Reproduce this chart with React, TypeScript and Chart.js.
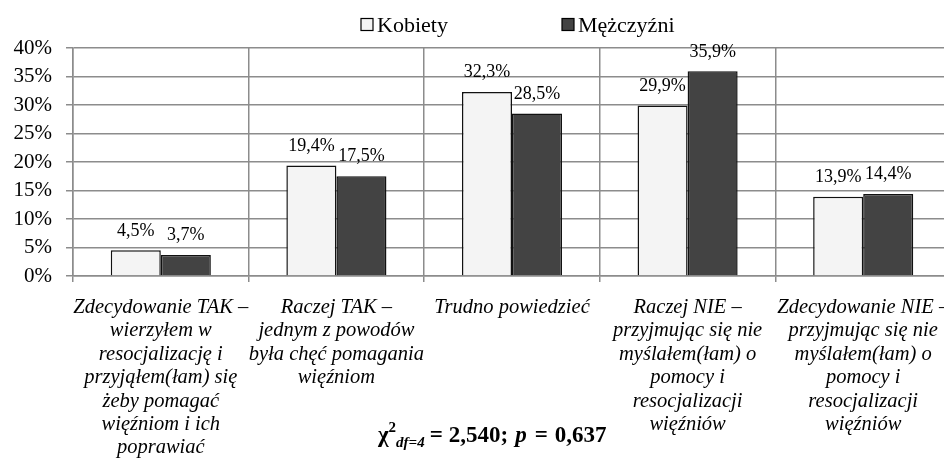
import React, { useEffect, useRef } from 'react';
import { Chart, registerables } from 'chart.js';

Chart.register(...registerables);

const SERIF = "'Liberation Serif', 'Times New Roman', serif";

const categories: string[][] = [
  ['Zdecydowanie TAK –', 'wierzyłem w', 'resocjalizację i', 'przyjąłem(łam) się', 'żeby pomagać', 'więźniom i ich', 'poprawiać'],
  ['Raczej TAK –', 'jednym z powodów', 'była chęć pomagania', 'więźniom'],
  ['Trudno powiedzieć'],
  ['Raczej NIE –', 'przyjmując się nie', 'myślałem(łam) o', 'pomocy i', 'resocjalizacji', 'więźniów'],
  ['Zdecydowanie NIE –', 'przyjmując się nie', 'myślałem(łam) o', 'pomocy i', 'resocjalizacji', 'więźniów'],
];

const seriesNames = ['Kobiety', 'Mężczyźni'];
const kobiety = [4.5, 19.4, 32.3, 29.9, 13.9];
const mezczyzni = [3.7, 17.5, 28.5, 35.9, 14.4];

const yMin = 0;
const yMax = 40;
const yStep = 5;

// statistic annotation: text pieces with style and spacing after each piece
const statParts = [
  { text: 'χ', style: 'bold', size: 23, dy: 0, gap: 0 },
  { text: '2', style: 'bold', size: 15, dy: -10, gap: 0 },
  { text: 'df=4', style: 'italic bold', size: 15, dy: 5, gap: 5 },
  { text: '=', style: 'bold', size: 23, dy: 0, gap: 6 },
  { text: '2,540;', style: 'bold', size: 23, dy: 0, gap: 7 },
  { text: 'p', style: 'italic bold', size: 23, dy: 0, gap: 8 },
  { text: '=', style: 'bold', size: 23, dy: 0, gap: 7 },
  { text: '0,637', style: 'bold', size: 23, dy: 0, gap: 0 },
];

const fmt = (v: number) => v.toFixed(1).replace('.', ',') + '%';

const GRID = '#8c8c8c';

const dataLabelPlugin = {
  id: 'dataLabels',
  afterDatasetsDraw(chart: any) {
    const ctx = chart.ctx;
    ctx.save();
    ctx.font = `18px ${SERIF}`;
    ctx.fillStyle = '#000';
    ctx.textAlign = 'center';
    ctx.textBaseline = 'middle';
    chart.data.datasets.forEach((ds: any, di: number) => {
      const meta = chart.getDatasetMeta(di);
      meta.data.forEach((bar: any, i: number) => {
        ctx.fillText(fmt(ds.data[i]), bar.x, bar.y - 19.5);
      });
    });
    ctx.restore();
  },
};

const legendPlugin = {
  id: 'customLegend',
  afterDraw(chart: any) {
    const ctx = chart.ctx;
    ctx.save();
    const starts = [361, 562];
    ctx.font = `22px ${SERIF}`;
    ctx.textBaseline = 'alphabetic';
    ctx.textAlign = 'left';
    chart.data.datasets.forEach((ds: any, i: number) => {
      const x = starts[i];
      ctx.fillStyle = ds.backgroundColor;
      ctx.fillRect(x, 18.5, 12, 12);
      ctx.strokeStyle = '#000';
      ctx.lineWidth = 1.2;
      ctx.strokeRect(x, 18.5, 12, 12);
      ctx.fillStyle = '#000';
      ctx.fillText(ds.label, x + 16, 32);
    });
    ctx.restore();
  },
};

const statPlugin = {
  id: 'statText',
  afterDraw(chart: any) {
    const ctx = chart.ctx;
    ctx.save();
    ctx.fillStyle = '#000';
    ctx.textBaseline = 'alphabetic';
    ctx.textAlign = 'left';
    let x = 378;
    const y = 442;
    statParts.forEach((p) => {
      ctx.font = `${p.style} ${p.size}px ${SERIF}`;
      ctx.fillText(p.text, x, y + p.dy);
      x += ctx.measureText(p.text).width + p.gap;
    });
    ctx.restore();
  },
};

export default function App() {
  const ref = useRef<HTMLCanvasElement | null>(null);

  useEffect(() => {
    if (!ref.current) return;
    const chart = new Chart(ref.current, {
      type: 'bar',
      data: {
        labels: categories,
        datasets: [
          {
            label: seriesNames[0],
            data: kobiety,
            backgroundColor: '#f4f4f4',
            borderColor: '#111',
            borderWidth: 1.5,
            categoryPercentage: 0.57,
            barPercentage: 1.0,
          },
          {
            label: seriesNames[1],
            data: mezczyzni,
            backgroundColor: '#434343',
            borderColor: '#111',
            borderWidth: 1.5,
            categoryPercentage: 0.57,
            barPercentage: 1.0,
          },
        ],
      },
      options: {
        animation: false,
        responsive: true,
        maintainAspectRatio: false,
        layout: { padding: { top: 48, left: 0, right: 0, bottom: 0 } },
        plugins: {
          legend: { display: false },
          tooltip: { enabled: false },
        },
        scales: {
          x: {
            grid: {
              offset: true,
              color: GRID,
              lineWidth: 1.5,
              tickLength: 6,
              drawTicks: true,
            },
            border: { display: true, color: GRID, width: 1.5 },
            ticks: {
              color: '#000',
              font: { family: SERIF, size: 20.5, style: 'italic', lineHeight: 1.14 },
              maxRotation: 0,
              minRotation: 0,
              autoSkip: false,
              padding: 14,
            },
            afterFit: (scale: any) => {
              scale.height = 182;
              scale.paddingLeft = 0;
              scale.paddingRight = 0;
            },
          },
          y: {
            min: yMin,
            max: yMax,
            grid: {
              color: GRID,
              lineWidth: 1.5,
              tickLength: 7,
            },
            border: { display: true, color: GRID, width: 1.5 },
            ticks: {
              stepSize: yStep,
              color: '#000',
              font: { family: SERIF, size: 21 },
              padding: 14,
              callback: (v: any) => `${v}%`,
            },
            afterFit: (scale: any) => {
              scale.width = 73;
            },
          },
        },
      },
      plugins: [dataLabelPlugin, legendPlugin, statPlugin],
    });
    return () => chart.destroy();
  }, []);

  return (
    <div style={{ position: 'absolute', left: 0, top: 0, width: 944, height: 458, overflow: 'hidden', background: '#fff' }}>
      <div style={{ position: 'relative', width: 951, height: 458 }}>
        <canvas ref={ref} />
      </div>
    </div>
  );
}
